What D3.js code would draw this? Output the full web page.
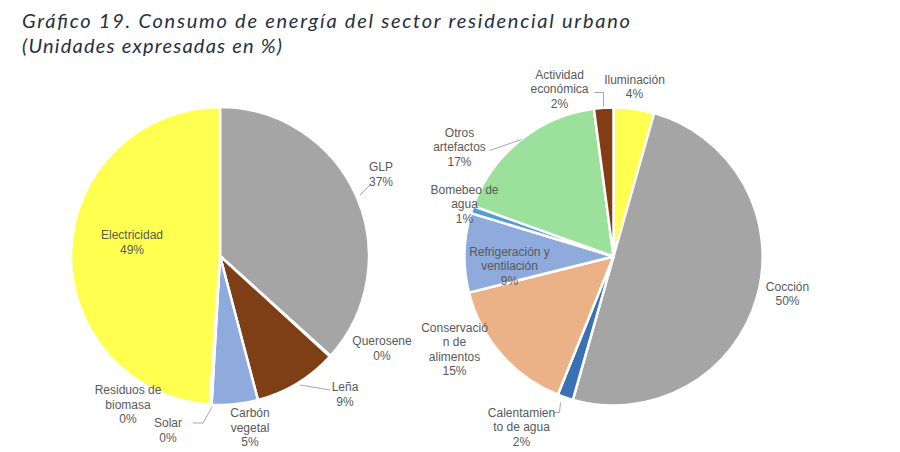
<!DOCTYPE html>
<html>
<head>
<meta charset="utf-8">
<script src="https://cdn.jsdelivr.net/npm/d3@7"></script>
<style>
  body { margin: 0; background: #fff; }
  text { font-family: "Liberation Sans", Arial, sans-serif; }
</style>
</head>
<body>
<script>
// datos: sector residencial urbano, por fuente y por uso
var fuentes = ["GLP", "Querosene", "Leña", "Carbón vegetal", "Solar", "Residuos de biomasa", "Electricidad"];
var fuentesValores = [36.7, 0.1, 9.1, 5.0, 0.1, 0.1, 48.9];
var fuentesEtiquetas = ["37%", "0%", "9%", "5%", "0%", "0%", "49%"];

var usos = ["Iluminación", "Cocción", "Calentamiento de agua", "Conservación de alimentos",
            "Refrigeración y ventilación", "Bomebeo de agua", "Otros artefactos", "Actividad económica"];
var usosValores = [4.4, 50.0, 1.7, 15.0, 8.6, 0.8, 17.4, 2.1];
var usosEtiquetas = ["4%", "50%", "2%", "15%", "9%", "1%", "17%", "2%"];

var width = 900, height = 452;

var svg = d3.select("body").append("svg")
    .attr("width", width)
    .attr("height", height);

// titulo
var title = svg.append("g").attr("fill", "#27303d")
    .style("font-style", "italic");
title.append("text")
    .attr("x", 22).attr("y", 28)
    .style("font-family", "Lato, sans-serif")
    .style("font-size", "20px")
    .attr("textLength", 608).attr("lengthAdjust", "spacing")
    .text("Gráfico 19. Consumo de energía del sector residencial urbano");
title.append("text")
    .attr("x", 22).attr("y", 53)
    .style("font-family", "Lato, sans-serif")
    .style("font-size", "20px")
    .attr("textLength", 260).attr("lengthAdjust", "spacing")
    .text("(Unidades expresadas en %)");

// posiciones de etiquetas (relativas al centro de cada torta)
var layoutFuentes = [
  {lines: ["GLP"], dx: 161, dy: -89, leader: [[140, -61], [151, -72]]},
  {lines: ["Querosene"], dx: 162, dy: 85},
  {lines: ["Leña"], dx: 125, dy: 131, leader: [[80, 129], [110, 134]]},
  {lines: ["Carbón", "vegetal"], dx: 30, dy: 157},
  {lines: ["Solar"], dx: -52, dy: 167, leader: [[-27, 167], [-17, 167], [-8, 151]]},
  {lines: ["Residuos de", "biomasa"], dx: -92, dy: 134},
  {lines: ["Electricidad"], dx: -88, dy: -21}
];

var layoutUsos = [
  {lines: ["Iluminación"], dx: 21, dy: -177},
  {lines: ["Cocción"], dx: 174, dy: 30},
  {lines: ["Calentamien", "to de agua"], dx: -92, dy: 156, leader: [[-53, 146], [-54, 156], [-60, 156]]},
  {lines: ["Conservació", "n de", "alimentos"], dx: -159, dy: 71},
  {lines: ["Refrigeración y", "ventilación"], dx: -104, dy: -5},
  {lines: ["Bomebeo de", "agua"], dx: -149, dy: -67},
  {lines: ["Otros", "artefactos"], dx: -154, dy: -124, leader: [[-124, -106], [-92, -117]]},
  {lines: ["Actividad", "económica"], dx: -54, dy: -182, leader: [[-19, -164], [-10, -164], [-10, -150]]}
];

var fuentesColores = ["#a5a5a5", "#5b9bd5", "#7e3f17", "#8faadc", "#70ad47", "#c9a27a", "#ffff4f"];
var usosColores = ["#ffff4f", "#a5a5a5", "#3a70b4", "#ecb287", "#8faadc", "#4f9fd6", "#9be09b", "#843c14"];

function drawPie(cx, cy, r, names, values, pcts, colors, layout) {
  var pie = d3.pie().sort(null).value(function(d) { return d; });
  var arc = d3.arc().innerRadius(0).outerRadius(r);
  var g = svg.append("g").attr("transform", "translate(" + cx + "," + cy + ")");

  g.selectAll(".slice")
      .data(pie(values))
    .enter().append("path")
      .attr("class", "slice")
      .attr("d", arc)
      .attr("fill", function(d, i) { return colors[i]; })
      .attr("stroke", "#fff")
      .attr("stroke-width", 2.5)
      .attr("stroke-linejoin", "round");

  var line = d3.line();
  layout.forEach(function(l) {
    if (l.leader) {
      g.append("path")
        .attr("d", line(l.leader))
        .attr("fill", "none")
        .attr("stroke", "#a6a6a6")
        .attr("stroke-width", 1);
    }
  });

  var lh = 14.5;
  g.selectAll(".lbl")
      .data(layout)
    .enter().append("text")
      .attr("class", "lbl")
      .attr("text-anchor", "middle")
      .attr("fill", "#595959")
      .style("font-size", "12px")
      .each(function(l, i) {
        var t = d3.select(this);
        var all = l.lines.concat([pcts[i]]);
        all.forEach(function(s, j) {
          t.append("tspan")
            .attr("x", l.dx)
            .attr("y", l.dy + j * lh)
            .attr("dy", "0.35em")
            .text(s);
        });
      });
}

drawPie(220, 256, 149, fuentes, fuentesValores, fuentesEtiquetas, fuentesColores, layoutFuentes);
drawPie(613.5, 256.5, 149, usos, usosValores, usosEtiquetas, usosColores, layoutUsos);
</script>
</body>
</html>
